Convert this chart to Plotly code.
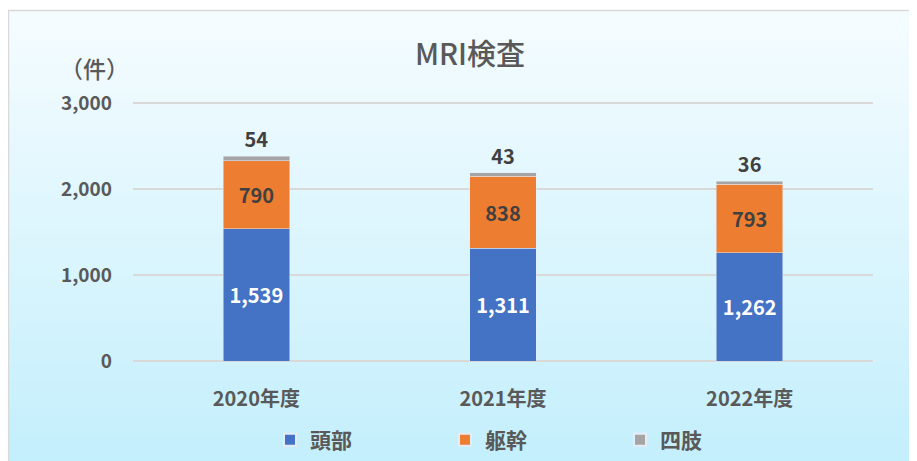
import plotly.graph_objects as go

categories = ["2020年度", "2021年度", "2022年度"]
head = [1539, 1311, 1262]
trunk = [790, 838, 793]
limbs = [54, 43, 36]
series_names = ["頭部", "躯幹", "四肢"]
colors = ["#4472C4", "#ED7D31", "#A5A5A5"]
ytick_vals = [0, 1000, 2000, 3000]
ytick_text = ["0", "1,000", "2,000", "3,000"]
y_max = 3050

O = 8  # page body margin
PW, PH = 917, 461
W, H = PW - O, PH - O
# plot area in page pixels
pl, pr, pb = 133, 873, 361
scale = 258 / 3000
pt = pb - scale * y_max
L = pl - O
R = W - (pr - O)
B = H - (pb - O)
T = pt - O
pw, ph = W - L - R, H - T - B

def px_x(px):
    return (px - O - L) / pw

def px_y(py):
    return (H - B - (py - O)) / ph

fnt = "Noto Sans CJK JP, Noto Sans, sans-serif"

fig = go.Figure()
fig.add_trace(go.Bar(x=categories, y=head, name=series_names[0], marker_color=colors[0],
                     text=[f"{v:,}" for v in head], textposition="inside",
                     insidetextanchor="middle",
                     textfont=dict(color="white", size=20, family=fnt, weight="bold")))
fig.add_trace(go.Bar(x=categories, y=trunk, name=series_names[1], marker_color=colors[1],
                     text=[f"{v:,}" for v in trunk], textposition="inside",
                     insidetextanchor="middle",
                     textfont=dict(color="#404040", size=20, family=fnt, weight="bold")))
fig.add_trace(go.Bar(x=categories, y=limbs, name=series_names[2], marker_color=colors[2],
                     text=[f"{v:,}" for v in limbs], textposition="outside",
                     textfont=dict(color="#404040", size=20, family=fnt, weight="bold"),
                     cliponaxis=False))

# gradient background box
shapes = []
top_py, bot_py, left_px = 10, PH, 4
n = 60
c0 = (245, 252, 255)
c1 = (196, 239, 252)
for i in range(n):
    y0p = top_py + (bot_py - top_py) * i / n
    y1p = top_py + (bot_py - top_py) * (i + 1) / n + 1
    t = i / (n - 1)
    c = tuple(round(c0[k] + (c1[k] - c0[k]) * t) for k in range(3))
    shapes.append(dict(type="rect", xref="paper", yref="paper", layer="below",
                       x0=px_x(left_px), x1=px_x(PW + 5), y0=px_y(y1p), y1=px_y(y0p),
                       line=dict(width=0), fillcolor=f"rgb{c}"))
shapes.append(dict(type="rect", xref="paper", yref="paper", layer="below",
                   x0=px_x(O + 0.5), x1=px_x(PW + 5), y0=px_y(PH + 5), y1=px_y(top_py),
                   line=dict(width=1.5, color="#D9D9D9"), fillcolor="rgba(0,0,0,0)"))

fig.update_layout(
    width=W, height=H,
    margin=dict(l=L, r=R, t=T, b=B, autoexpand=False, pad=0),
    barmode="stack", bargap=0.73,
    paper_bgcolor="white", plot_bgcolor="rgba(0,0,0,0)",
    font=dict(family=fnt, color="#595959"),
    shapes=shapes,
    title=dict(text="MRI検査", x=(470 - O) / W, xanchor="center", y=1 - (55 - O) / H,
               yanchor="middle",
               font=dict(size=29, color="#595959", family=fnt, weight=500)),
    annotations=[dict(text="（件）", xref="paper", yref="paper", x=px_x(94), y=px_y(68),
                      xanchor="center", yanchor="middle", showarrow=False,
                      font=dict(size=23, color="#595959", family=fnt, weight=500))],
    legend=dict(orientation="h", x=(270 - O) / W, y=1 - (440 - O) / H, xref="container",
                yref="container", xanchor="left", yanchor="middle",
                entrywidth=130, entrywidthmode="pixels", bgcolor="rgba(0,0,0,0)",
                font=dict(size=21, color="#595959", family=fnt, weight="bold"),
                itemsizing="constant", traceorder="normal", itemwidth=30),
)
fig.update_xaxes(showgrid=False, showline=False, ticks="", ticklabelstandoff=24,
                 tickfont=dict(size=20, color="#595959", family=fnt, weight="bold"))
fig.update_yaxes(range=[0, y_max], tickvals=ytick_vals, ticktext=ytick_text,
                 showgrid=True, gridcolor="#D9D9D9", gridwidth=1.5,
                 zeroline=True, zerolinecolor="#D9D9D9", zerolinewidth=1.5,
                 showline=False, ticks="", ticklabelstandoff=20,
                 tickfont=dict(size=19, color="#595959", family=fnt, weight="bold"))

fig.write_html("out.html")
